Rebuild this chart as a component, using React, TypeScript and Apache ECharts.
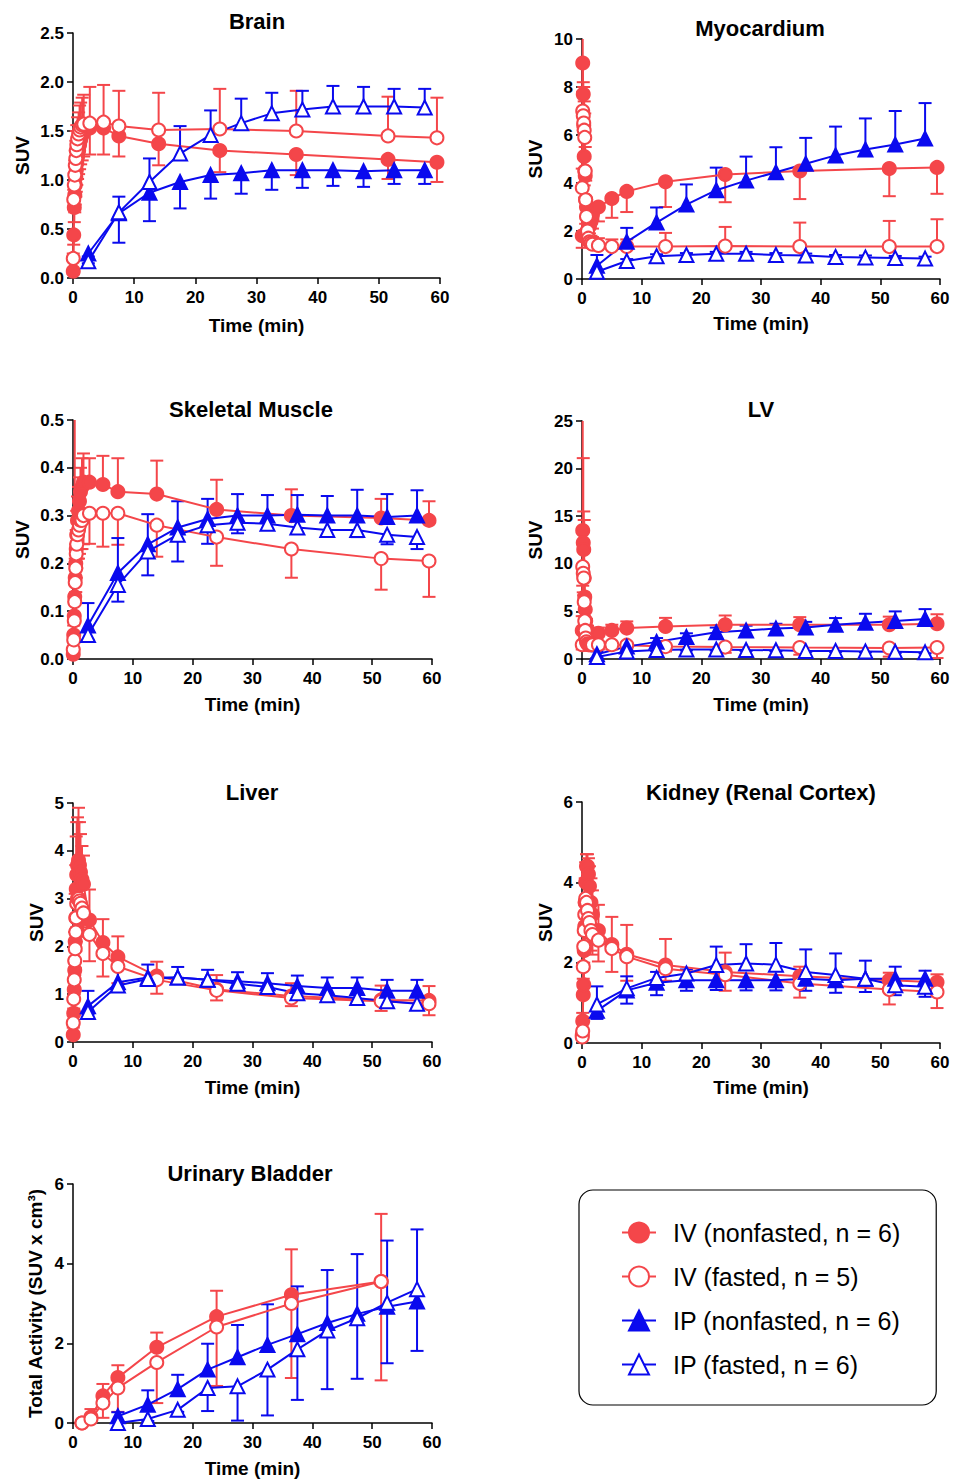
import React, { useEffect, useRef } from 'react';
import * as echarts from 'echarts';

const FONT = '"Liberation Sans", Arial, sans-serif';
const RED = '#F4464A';
const BLUE = '#0A0AEE';
const NAMES = ['IV (nonfasted, n = 6)', 'IV (fasted, n = 5)', 'IP (nonfasted, n = 6)', 'IP (fasted, n = 6)'];

// time points (min)
const ivTimes = [0.04, 0.12, 0.21, 0.29, 0.37, 0.46, 0.54, 0.62, 0.75, 0.92, 1.08, 1.25, 1.5, 1.75, 2.75, 5, 7.5, 14, 24, 36.5, 51.5, 59.5];
const ipTimes = [2.5, 7.5, 12.5, 17.5, 22.5, 27.5, 32.5, 37.5, 42.5, 47.5, 52.5, 57.5];
const bladderIvTimes = [1.5, 3, 5, 7.5, 14, 24, 36.5, 51.5];
const bladderIpTimes = [7.5, 12.5, 17.5, 22.5, 27.5, 32.5, 37.5, 42.5, 47.5, 52.5, 57.5];

// Brain
const brainIvN = [0.07, 0.44, 0.72, 0.85, 0.95, 1.03, 1.1, 1.17, 1.24, 1.3, 1.36, 1.41, 1.46, 1.5, 1.53, 1.53, 1.45, 1.37, 1.3, 1.26, 1.21, 1.18];
const brainIvNErr = [0.03, 0.1, 0.15, 0.18, 0.2, 0.2, 0.22, 0.22, 0.23, 0.24, 0.25, 0.25, 0.26, 0.26, 0.27, 0.27, 0.21, 0.22, 0.22, 0.21, 0.2, 0.2];
const brainIvF = [0.2, 0.8, 0.95, 1.05, 1.15, 1.22, 1.3, 1.36, 1.42, 1.47, 1.51, 1.54, 1.56, 1.57, 1.58, 1.59, 1.55, 1.51, 1.52, 1.5, 1.45, 1.43];
const brainIvFErr = [0.05, 0.1, 0.12, 0.15, 0.15, 0.18, 0.2, 0.2, 0.22, 0.22, 0.25, 0.25, 0.28, 0.3, 0.37, 0.38, 0.36, 0.38, 0.41, 0.41, 0.4, 0.41];
const brainIpN = [0.25, 0.66, 0.87, 0.98, 1.05, 1.07, 1.1, 1.1, 1.1, 1.09, 1.1, 1.1];
const brainIpNErr = [0.1, 0.3, 0.29, 0.27, 0.24, 0.21, 0.2, 0.18, 0.16, 0.16, 0.14, 0.14];
const brainIpF = [0.17, 0.67, 0.98, 1.27, 1.46, 1.58, 1.68, 1.72, 1.75, 1.75, 1.75, 1.74];
const brainIpFErr = [0.05, 0.16, 0.24, 0.28, 0.25, 0.25, 0.21, 0.19, 0.21, 0.2, 0.18, 0.19];

// Myocardium
const myoIvN = [1.8, 9.0, 7.7, 6.4, 5.1, 4.5, 4.3, 3.3, 3.0, 2.6, 2.3, 2.2, 2.4, 2.7, 3.0, 3.35, 3.65, 4.05, 4.35, 4.5, 4.6, 4.65];
const myoIvNErr = [0.5, 1.2, 1.5, 1.3, 1.2, 1.1, 1.0, 1.0, 0.9, 0.8, 0.8, 0.7, 0.7, 0.6, 0.6, 0.8, 0.86, 1.05, 1.15, 1.17, 1.15, 1.1];
const myoIvF = [3.8, 7.0, 6.8, 6.5, 6.2, 5.9, 4.5, 3.3, 2.6, 2.0, 1.7, 1.55, 1.5, 1.45, 1.4, 1.35, 1.35, 1.35, 1.37, 1.35, 1.35, 1.35];
const myoIvFErr = [0.8, 3.5, 1.4, 1.5, 1.2, 1.0, 1.0, 0.8, 0.6, 0.5, 0.4, 0.35, 0.3, 0.3, 0.3, 0.3, 0.3, 0.57, 0.8, 1.0, 1.07, 1.14];
const myoIpN = [0.55, 1.55, 2.35, 3.1, 3.7, 4.1, 4.45, 4.8, 5.15, 5.4, 5.6, 5.85];
const myoIpNErr = [0.45, 0.58, 0.63, 0.84, 0.94, 1.0, 1.04, 1.08, 1.2, 1.29, 1.4, 1.48];
const myoIpF = [0.3, 0.75, 0.95, 1.0, 1.05, 1.05, 1.0, 0.98, 0.92, 0.9, 0.88, 0.85];
const myoIpFErr = [0.05, 0.08, 0.08, 0.08, 0.08, 0.08, 0.08, 0.08, 0.08, 0.08, 0.08, 0.08];

// Skeletal muscle
const muscleIvN = [0.01, 0.05, 0.09, 0.13, 0.17, 0.2, 0.23, 0.26, 0.29, 0.31, 0.33, 0.35, 0.36, 0.37, 0.37, 0.365, 0.35, 0.345, 0.313, 0.3, 0.295, 0.29];
const muscleIvNErr = [0.01, 0.02, 0.03, 0.38, 0.04, 0.04, 0.04, 0.05, 0.05, 0.05, 0.05, 0.05, 0.06, 0.06, 0.05, 0.06, 0.07, 0.07, 0.062, 0.055, 0.04, 0.04];
const muscleIvF = [0.02, 0.04, 0.08, 0.12, 0.16, 0.19, 0.22, 0.24, 0.26, 0.27, 0.28, 0.29, 0.29, 0.3, 0.305, 0.305, 0.305, 0.28, 0.255, 0.23, 0.21, 0.205];
const muscleIvFErr = [0.01, 0.02, 0.03, 0.04, 0.04, 0.05, 0.05, 0.05, 0.05, 0.06, 0.06, 0.06, 0.06, 0.06, 0.064, 0.07, 0.066, 0.066, 0.06, 0.06, 0.065, 0.075];
const muscleIpN = [0.07, 0.18, 0.24, 0.275, 0.293, 0.3, 0.3, 0.302, 0.3, 0.3, 0.297, 0.3];
const muscleIpNErr = [0.047, 0.073, 0.063, 0.055, 0.042, 0.045, 0.043, 0.041, 0.041, 0.054, 0.048, 0.053];
const muscleIpF = [0.05, 0.155, 0.225, 0.26, 0.28, 0.285, 0.283, 0.275, 0.27, 0.27, 0.26, 0.255];
const muscleIpFErr = [0.01, 0.035, 0.05, 0.056, 0.039, 0.022, 0.012, 0.012, 0.012, 0.015, 0.02, 0.025];

// LV
const lvIvN = [3.0, 13.5, 12.2, 11.5, 8.5, 6.5, 5.2, 4.0, 3.2, 2.7, 2.5, 2.4, 2.5, 2.6, 2.7, 3.0, 3.25, 3.42, 3.6, 3.6, 3.6, 3.7];
const lvIvNErr = [1.5, 12, 8.9, 4.0, 6.1, 2.0, 1.5, 1.2, 1.0, 0.8, 0.7, 0.6, 0.6, 0.6, 0.6, 0.6, 0.7, 0.9, 0.97, 0.8, 0.85, 1.0];
const lvIvF = [1.5, 9.7, 9.0, 8.5, 6.0, 4.0, 3.0, 2.2, 1.8, 1.6, 1.5, 1.5, 1.5, 1.5, 1.5, 1.5, 1.45, 1.3, 1.25, 1.2, 1.15, 1.2];
const lvIvFErr = [0.5, 2.0, 2.0, 1.8, 1.5, 1.2, 1.0, 0.8, 0.7, 0.6, 0.6, 0.6, 0.6, 0.6, 0.5, 0.5, 0.5, 0.5, 0.6, 0.75, 0.9, 1.1];
const lvIpN = [0.5, 1.3, 1.8, 2.3, 2.8, 3.0, 3.2, 3.3, 3.6, 3.8, 4.0, 4.2];
const lvIpNErr = [0.3, 0.4, 0.4, 0.4, 0.5, 0.5, 0.5, 0.6, 0.7, 0.95, 1.0, 1.04];
const lvIpF = [0.2, 0.8, 0.95, 1.0, 1.0, 0.95, 0.92, 0.85, 0.85, 0.8, 0.75, 0.7];
const lvIpFErr = [0.1, 0.1, 0.1, 0.1, 0.1, 0.1, 0.1, 0.1, 0.1, 0.1, 0.1, 0.1];

// Liver
const liverIvN = [0.15, 0.6, 1.1, 1.5, 2.1, 2.6, 3.2, 3.5, 3.7, 3.8, 3.7, 3.55, 3.4, 3.3, 2.55, 2.08, 1.78, 1.38, 1.1, 0.96, 0.88, 0.87];
const liverIvNErr = [0.3, 0.5, 0.6, 0.8, 1.0, 1.1, 1.1, 1.1, 1.0, 1.1, 0.9, 0.8, 0.7, 0.6, 0.64, 0.49, 0.43, 0.3, 0.3, 0.27, 0.3, 0.3];
const liverIvF = [0.4, 0.9, 1.3, 1.7, 1.95, 2.3, 2.6, 2.9, 3.0, 3.0, 2.95, 2.9, 2.8, 2.7, 2.25, 1.85, 1.58, 1.3, 1.08, 0.92, 0.85, 0.8];
const liverIvFErr = [0.1, 0.2, 0.3, 0.3, 0.4, 0.4, 0.5, 0.5, 0.5, 0.5, 0.5, 0.5, 0.5, 0.5, 0.56, 0.48, 0.35, 0.29, 0.21, 0.17, 0.2, 0.24];
const liverIpN = [0.75, 1.25, 1.35, 1.35, 1.3, 1.27, 1.23, 1.17, 1.13, 1.13, 1.07, 1.07];
const liverIpNErr = [0.32, 0.35, 0.27, 0.22, 0.21, 0.19, 0.21, 0.22, 0.22, 0.22, 0.23, 0.23];
const liverIpF = [0.63, 1.18, 1.32, 1.35, 1.3, 1.22, 1.15, 1.02, 0.98, 0.92, 0.85, 0.8];
const liverIpFErr = [0.05, 0.13, 0.1, 0.05, 0.06, 0.06, 0.06, 0.07, 0.07, 0.08, 0.1, 0.1];

// Kidney
const kidneyIvN = [0.2, 0.55, 1.2, 1.45, 2.3, 2.9, 3.5, 4.0, 4.4, 4.4, 4.2, 3.9, 3.5, 3.2, 2.8, 2.45, 2.21, 1.94, 1.77, 1.66, 1.56, 1.51];
const kidneyIvNErr = [0.1, 0.2, 0.3, 0.4, 0.5, 0.6, 0.6, 0.5, 0.3, 0.3, 0.4, 0.5, 0.6, 0.6, 0.64, 0.69, 0.73, 0.65, 0.48, 0.24, 0.19, 0.2];
const kidneyIvF = [0.15, 0.3, 1.9, 2.4, 2.8, 3.2, 3.5, 3.6, 3.5, 3.3, 3.1, 3.0, 2.8, 2.7, 2.56, 2.35, 2.15, 1.85, 1.7, 1.48, 1.33, 1.27];
const kidneyIvFErr = [0.05, 0.1, 0.3, 0.4, 0.5, 0.5, 0.5, 0.5, 0.5, 0.5, 0.5, 0.5, 0.5, 0.5, 0.53, 0.58, 0.6, 0.3, 0.4, 0.35, 0.37, 0.4];
const kidneyIpN = [0.8, 1.31, 1.5, 1.56, 1.56, 1.56, 1.56, 1.6, 1.56, 1.6, 1.6, 1.6];
const kidneyIpNErr = [0.2, 0.33, 0.31, 0.26, 0.24, 0.25, 0.25, 0.3, 0.31, 0.33, 0.41, 0.45];
const kidneyIpF = [0.96, 1.36, 1.62, 1.73, 1.94, 1.98, 1.95, 1.77, 1.69, 1.6, 1.44, 1.4];
const kidneyIpFErr = [0.45, 0.3, 0.15, 0.1, 0.46, 0.48, 0.54, 0.56, 0.54, 0.45, 0.46, 0.4];

// Urinary bladder
const bladderIvN = [0.0, 0.15, 0.68, 1.14, 1.9, 2.67, 3.22, 3.55];
const bladderIvNErr = [0.05, 0.2, 0.3, 0.31, 0.37, 0.65, 1.14, 1.7];
const bladderIvF = [0.0, 0.1, 0.5, 0.88, 1.52, 2.41, 3.0, 3.55];
const bladderIvFErr = [0.02, 0.05, 0.37, 0.6, 1.02, 1.48, 1.87, 2.48];
const bladderIpN = [0.17, 0.46, 0.85, 1.34, 1.65, 1.96, 2.23, 2.51, 2.74, 2.92, 3.05];
const bladderIpNErr = [0.1, 0.36, 0.36, 0.65, 0.81, 1.02, 1.2, 1.33, 1.5, 1.66, 1.81];
const bladderIpF = [0.0, 0.1, 0.33, 0.88, 0.92, 1.34, 1.85, 2.32, 2.63, 3.02, 3.36];
const bladderIpFErr = [0.0, 0.05, 0.05, 0.58, 0.86, 1.15, 1.27, 1.47, 1.52, 1.52, 1.55];

type Grp = { vals: number[]; errs: number[]; dir: number };
type Panel = {
  title: string; tx: number; ty: number;
  grid: { left: number; top: number; width: number; height: number };
  ymax: number; yint: number; dec: number; yName: string; yGap: number; xGap: number;
  iv: number[]; ip: number[]; g: Grp[];
};

const panels: Panel[] = [
  {
    title: 'Brain', tx: 257, ty: 21, grid: { left: 73, top: 33, width: 367, height: 245 },
    ymax: 2.5, yint: 0.5, dec: 1, yName: 'SUV', yGap: 41, xGap: 38, iv: ivTimes, ip: ipTimes,
    g: [
      { vals: brainIvN, errs: brainIvNErr, dir: -1 }, { vals: brainIvF, errs: brainIvFErr, dir: 1 },
      { vals: brainIpN, errs: brainIpNErr, dir: -1 }, { vals: brainIpF, errs: brainIpFErr, dir: 1 },
    ],
  },
  {
    title: 'Myocardium', tx: 760, ty: 28, grid: { left: 582, top: 39, width: 358, height: 240 },
    ymax: 10, yint: 2, dec: 0, yName: 'SUV', yGap: 37, xGap: 35, iv: ivTimes, ip: ipTimes,
    g: [
      { vals: myoIvN, errs: myoIvNErr, dir: -1 }, { vals: myoIvF, errs: myoIvFErr, dir: 1 },
      { vals: myoIpN, errs: myoIpNErr, dir: 1 }, { vals: myoIpF, errs: myoIpFErr, dir: 1 },
    ],
  },
  {
    title: 'Skeletal Muscle', tx: 251, ty: 409, grid: { left: 73, top: 420, width: 359, height: 239 },
    ymax: 0.5, yint: 0.1, dec: 1, yName: 'SUV', yGap: 41, xGap: 36, iv: ivTimes, ip: ipTimes,
    g: [
      { vals: muscleIvN, errs: muscleIvNErr, dir: 1 }, { vals: muscleIvF, errs: muscleIvFErr, dir: -1 },
      { vals: muscleIpN, errs: muscleIpNErr, dir: 1 }, { vals: muscleIpF, errs: muscleIpFErr, dir: -1 },
    ],
  },
  {
    title: 'LV', tx: 761, ty: 409, grid: { left: 582, top: 421, width: 358, height: 238 },
    ymax: 25, yint: 5, dec: 0, yName: 'SUV', yGap: 37, xGap: 36, iv: ivTimes, ip: ipTimes,
    g: [
      { vals: lvIvN, errs: lvIvNErr, dir: 1 }, { vals: lvIvF, errs: lvIvFErr, dir: -1 },
      { vals: lvIpN, errs: lvIpNErr, dir: 1 }, { vals: lvIpF, errs: lvIpFErr, dir: -1 },
    ],
  },
  {
    title: 'Liver', tx: 252, ty: 792, grid: { left: 73, top: 803, width: 359, height: 239 },
    ymax: 5, yint: 1, dec: 0, yName: 'SUV', yGap: 27, xGap: 36, iv: ivTimes, ip: ipTimes,
    g: [
      { vals: liverIvN, errs: liverIvNErr, dir: 1 }, { vals: liverIvF, errs: liverIvFErr, dir: -1 },
      { vals: liverIpN, errs: liverIpNErr, dir: 1 }, { vals: liverIpF, errs: liverIpFErr, dir: -1 },
    ],
  },
  {
    title: 'Kidney (Renal Cortex)', tx: 761, ty: 792, grid: { left: 582, top: 802, width: 358, height: 241 },
    ymax: 6, yint: 2, dec: 0, yName: 'SUV', yGap: 27, xGap: 35, iv: ivTimes, ip: ipTimes,
    g: [
      { vals: kidneyIvN, errs: kidneyIvNErr, dir: 1 }, { vals: kidneyIvF, errs: kidneyIvFErr, dir: -1 },
      { vals: kidneyIpN, errs: kidneyIpNErr, dir: -1 }, { vals: kidneyIpF, errs: kidneyIpFErr, dir: 1 },
    ],
  },
  {
    title: 'Urinary Bladder', tx: 250, ty: 1173, grid: { left: 73, top: 1184, width: 359, height: 239 },
    ymax: 6, yint: 2, dec: 0, yName: 'Total Activity (SUV x cm³)', yGap: 28, xGap: 36,
    iv: bladderIvTimes, ip: bladderIpTimes,
    g: [
      { vals: bladderIvN, errs: bladderIvNErr, dir: 1 }, { vals: bladderIvF, errs: bladderIvFErr, dir: -1 },
      { vals: bladderIpN, errs: bladderIpNErr, dir: 1 }, { vals: bladderIpF, errs: bladderIpFErr, dir: -1 },
    ],
  },
];

const STYLES = [
  { color: RED, symbol: 'circle', size: 13, fill: RED },
  { color: RED, symbol: 'circle', size: 13, fill: '#ffffff' },
  { color: BLUE, symbol: 'triangle', size: 14, fill: BLUE },
  { color: BLUE, symbol: 'triangle', size: 14, fill: '#ffffff' },
];

function buildOption() {
  const grid: any[] = [];
  const xAxis: any[] = [];
  const yAxis: any[] = [];
  const series: any[] = [];
  const graphic: any[] = [];
  const axisCommon = {
    axisLine: { show: true, onZero: false, lineStyle: { color: '#000', width: 1.5 } },
    axisTick: { show: true, inside: false, length: 6, lineStyle: { color: '#000', width: 1.5 } },
    splitLine: { show: false },
    nameLocation: 'middle',
    nameTextStyle: { color: '#000', fontFamily: FONT, fontWeight: 'bold', fontSize: 19 },
  };
  panels.forEach((p, gi) => {
    grid.push({ ...p.grid, containLabel: false, outerBoundsMode: 'none' });
    xAxis.push({
      ...axisCommon, gridIndex: gi, type: 'value', min: 0, max: 60, interval: 10,
      name: 'Time (min)', nameGap: p.xGap,
      axisLabel: { color: '#000', fontFamily: FONT, fontWeight: 'bold', fontSize: 17, margin: 11 },
    });
    yAxis.push({
      ...axisCommon, gridIndex: gi, type: 'value', min: 0, max: p.ymax, interval: p.yint,
      name: p.yName, nameGap: p.yGap, nameRotate: 90,
      axisLabel: {
        color: '#000', fontFamily: FONT, fontWeight: 'bold', fontSize: 17, margin: 9,
        formatter: (v: number) => v.toFixed(p.dec),
      },
    });
    graphic.push({
      type: 'text', x: p.tx, y: p.ty,
      style: { text: p.title, fill: '#000', fontFamily: FONT, fontWeight: 'bold', fontSize: 22, align: 'center', verticalAlign: 'middle' },
    });
    p.g.forEach((grp, si) => {
      const st = STYLES[si];
      const times = si < 2 ? p.iv : p.ip;
      const dir = grp.dir;
      series.push({
        type: 'custom', xAxisIndex: gi, yAxisIndex: gi, z: 1, silent: true,
        data: times.map((t, i) => [t, grp.vals[i], grp.errs[i]]),
        encode: { x: 0, y: 1 },
        renderItem: (params: any, api: any) => {
          const t = api.value(0);
          const v = api.value(1);
          const e = api.value(2);
          const p0 = api.coord([t, v]);
          const p1 = api.coord([t, v + dir * e]);
          const cs = params.coordSys;
          let y1 = p1[1];
          let clipped = false;
          if (y1 < cs.y) { y1 = cs.y; clipped = true; }
          if (y1 > cs.y + cs.height) { y1 = cs.y + cs.height; clipped = true; }
          const children: any[] = [
            { type: 'line', shape: { x1: p0[0], y1: p0[1], x2: p0[0], y2: y1 }, style: { stroke: st.color, lineWidth: 2 } },
          ];
          if (!clipped) {
            children.push({ type: 'line', shape: { x1: p0[0] - 6.5, y1: y1, x2: p0[0] + 6.5, y2: y1 }, style: { stroke: st.color, lineWidth: 2 } });
          }
          return { type: 'group', children };
        },
      });
      series.push({
        type: 'line', name: NAMES[si], xAxisIndex: gi, yAxisIndex: gi, z: 3, clip: false,
        data: times.map((t, i) => [t, grp.vals[i]]),
        symbol: st.symbol, symbolSize: st.size, showAllSymbol: true,
        lineStyle: { color: st.color, width: 2 },
        itemStyle: { color: st.fill, borderColor: st.color, borderWidth: 2 },
        emphasis: { disabled: true },
      });
    });
  });
  return {
    animation: false,
    backgroundColor: '#ffffff',
    grid, xAxis, yAxis, series, graphic,
    legend: {
      data: NAMES, orient: 'vertical', left: 579, top: 1190,
      padding: [30, 36, 28, 42], itemGap: 19, itemWidth: 34, itemHeight: 25,
      borderColor: '#000', borderWidth: 1.2, borderRadius: 14, selectedMode: false,
      textStyle: { fontFamily: FONT, fontSize: 25, color: '#000', padding: [0, 0, 0, 12] },
    },
  };
}

export default function App() {
  const ref = useRef<HTMLDivElement>(null);
  useEffect(() => {
    document.body.style.margin = '0';
    if (!ref.current) return;
    const chart = echarts.init(ref.current, undefined, { renderer: 'svg' });
    chart.setOption(buildOption() as any);
    return () => chart.dispose();
  }, []);
  return <div ref={ref} style={{ width: 953, height: 1481 }} />;
}
